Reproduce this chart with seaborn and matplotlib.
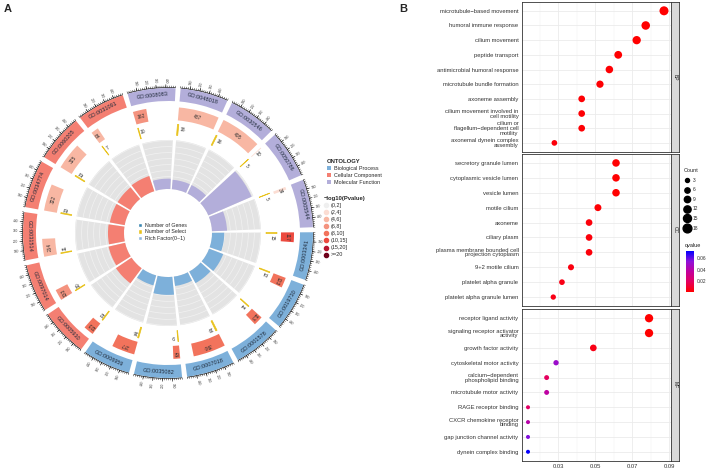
import numpy as np
import pandas as pd
import matplotlib
matplotlib.use("Agg")
import matplotlib.pyplot as plt
import seaborn as sns
from matplotlib.colors import LinearSegmentedColormap, Normalize
from matplotlib.cm import ScalarMappable
from matplotlib.patches import Patch
from matplotlib.lines import Line2D

sns.set_style("white")
plt.rcParams['font.family'] = ['Liberation Sans', 'DejaVu Sans']

# ---------------- panel A data (sectors clockwise from 12 o'clock) ----------------
go_ids = ["GO:0048018", "GO:0030546", "GO:0050786", "GO:0005544",
          "GO:0003341", "GO:0019730", "GO:0001578", "GO:0007018", "GO:0035082", "GO:0006959",
          "GO:0005930", "GO:0097014", "GO:0031514", "GO:0034774", "GO:0060205", "GO:0031091",
          "GO:0008083"]
ontology = ["MF", "MF", "MF", "MF",
            "BP", "BP", "BP", "BP", "BP", "BP",
            "CC", "CC", "CC", "CC", "CC", "CC",
            "MF"]
n_genes = [487, 495, 10, 34, 117, 123, 113, 390, 82, 277, 123, 133, 214, 322, 325, 91, 162]
n_select = [18, 16, 5, 5, 15, 12, 11, 19, 9, 16, 12, 10, 11, 13, 13, 7, 10]
rich_factor = [0.10, 0.10, 0.50, 0.16, 0.13, 0.16, 0.14, 0.10, 0.19, 0.11,
               0.20, 0.18, 0.17, 0.16, 0.16, 0.17, 0.11]
p_bin = [2, 2, 1, 1, 5, 4, 4, 4, 4, 4, 4, 3, 2, 2, 2, 2, 3]
p_labels = ["(0,2]", "(2,4]", "(4,6]", "(6,8]", "(8,10]", "(10,15]", "(15,20]", ">=20"]
p_colors = ["#EFEFEF", "#FBDDD3", "#F8B7A3", "#F4937F", "#F2735C", "#EC4A3F", "#B8152F", "#6E0019"]
ont_colors = {"BP": "#7DB0DA", "CC": "#F47F72", "MF": "#B3AEDA"}
ont_names = {"BP": "Biological Process", "CC": "Cellular Component", "MF": "Molecular Function"}

# ---------------- panel B data ----------------
bp_terms = ["microtubule−based movement", "humoral immune response", "cilium movement",
            "peptide transport", "antimicrobial humoral response", "microtubule bundle formation",
            "axoneme assembly", "cilium movement involved in\ncell motility",
            "cilium or\nflagellum−dependent cell\nmotility", "axonemal dynein complex\nassembly"]
bp_ratio = [0.0873, 0.0774, 0.0725, 0.0625, 0.0577, 0.0526, 0.0427, 0.0427, 0.0427, 0.0279]
bp_count = [19, 17, 16, 14, 13, 12, 10, 10, 10, 7]
bp_q = [0.0001, 0.0002, 0.0002, 0.0005, 0.0006, 0.0008, 0.001, 0.001, 0.001, 0.002]

cc_terms = ["secretory granule lumen", "cytoplasmic vesicle lumen", "vesicle lumen",
            "motile cilium", "axoneme", "ciliary plasm",
            "plasma membrane bounded cell\nprojection cytoplasm", "9+2 motile cilium",
            "platelet alpha granule", "platelet alpha granule lumen"]
cc_ratio = [0.0613, 0.0613, 0.0613, 0.0515, 0.0467, 0.0467, 0.0467, 0.0369, 0.0320, 0.0273]
cc_count = [13, 13, 13, 11, 10, 10, 10, 8, 7, 6]
cc_q = [0.0005, 0.0005, 0.0005, 0.001, 0.002, 0.002, 0.002, 0.003, 0.004, 0.004]

mf_terms = ["receptor ligand activity", "signaling receptor activator\nactivity",
            "growth factor activity", "cytoskeletal motor activity",
            "calcium−dependent\nphospholipid binding", "microtubule motor activity",
            "RAGE receptor binding", "CXCR chemokine receptor\nbinding",
            "gap junction channel activity", "dynein complex binding"]
mf_ratio = [0.0792, 0.0792, 0.0490, 0.0288, 0.0237, 0.0237, 0.0136, 0.0136, 0.0136, 0.0136]
mf_count = [16, 16, 10, 6, 5, 5, 3, 3, 3, 3]
mf_q = [0.0002, 0.0002, 0.004, 0.050, 0.018, 0.038, 0.020, 0.040, 0.056, 0.072]

W, H = 708, 468
fig = plt.figure(figsize=(W / 100, H / 100), dpi=100)


def box(x0, y0, x1, y1):
    # pixel box (top-left origin) -> figure fraction
    return [x0 / W, 1 - y1 / H, (x1 - x0) / W, (y1 - y0) / H]


# ================= panel A =================
cx, cy, R = 168, 233, 165
axA = fig.add_axes(box(cx - R, cy - R, cx + R, cy + R), projection="polar")
axA.set_theta_zero_location("N")
axA.set_theta_direction(-1)
axA.set_ylim(0, R)
axA.set_axis_off()

n = len(go_ids)
step = 360 / n
gap = 2.0
start = 4.0
xmax = 500
span = step - gap


def deg(i, x):
    return start + gap / 2 + i * step + x / xmax * span


def ang(i, x):
    return np.deg2rad(deg(i, x))


for i, gid in enumerate(go_ids):
    col = ont_colors[ontology[i]]
    mid = ang(i, xmax / 2)
    wid = np.deg2rad(span)

    # outer ontology band + id
    axA.bar(mid, 13, width=wid, bottom=132, color=col, edgecolor="none")
    a = deg(i, xmax / 2)
    rot = -a + 180 if 90 < a < 270 else -a
    axA.text(mid, 138.5, gid, rotation=rot, rotation_mode="anchor",
             ha="center", va="center", fontsize=4, color="#1F2A3A")

    # axis with ticks
    axA.bar(mid, 0.6, width=wid, bottom=145.2, color="black", edgecolor="none")
    minor = np.arange(0, xmax + 1, 20)
    axA.vlines(ang(i, minor), 145.5, 147.3, color="black", lw=0.3)
    major = np.arange(100, xmax, 100)
    axA.vlines(ang(i, major), 145.5, 148.6, color="black", lw=0.4)
    for m in major:
        am = deg(i, m)
        if am % 360 < 180:
            r_rot, ha = 90 - am, "left"
        else:
            r_rot, ha = 270 - am, "right"
        axA.text(ang(i, m), 150, str(m), rotation=r_rot, rotation_mode="anchor",
                 ha=ha, va="center", fontsize=2.3, color="#333333")

    # number of genes
    g = n_genes[i]
    axA.bar(ang(i, g / 2), 13, width=np.deg2rad(g / xmax * span), bottom=113,
            color=p_colors[p_bin[i]], edgecolor="none")
    xl = max(g / 2, 28)
    axA.text(ang(i, xl), 119.5, str(g), rotation=-deg(i, xl), rotation_mode="anchor",
             ha="center", va="center", fontsize=3.6, color="#333333")

    # number of select
    s = n_select[i]
    axA.bar(ang(i, s / 2), 11, width=np.deg2rad(s / xmax * span), bottom=98,
            color="#E8C21C", edgecolor="#E8C21C", lw=0.5)
    xs = s + 55
    axA.text(ang(i, xs), 104, str(s), rotation=-deg(i, xs), rotation_mode="anchor",
             ha="center", va="center", fontsize=3.5, color="#333333")

    # rich factor on grey background with light rings
    axA.bar(mid, 49, width=wid, bottom=44, color="#E3E3E3", edgecolor="none")
    for rr in np.arange(50, 93, 6):
        axA.bar(mid, 0.7, width=wid, bottom=rr, color="#F2F2F2", edgecolor="none")
    axA.bar(mid, rich_factor[i] / 0.52 * 49, width=wid, bottom=44,
            color=col, edgecolor="none", zorder=3)

# legends of panel A
fig.legend([Patch(facecolor="#3A86B0"), Patch(facecolor="#E8C21C"), Patch(facecolor="#8FB7DF")],
           ["Number of Genes", "Number of Select", "Rich Factor(0~1)"],
           loc="upper left", bbox_to_anchor=(138 / W, 1 - 223 / H), frameon=False,
           fontsize=3.8, handlelength=0.8, handleheight=0.8, handletextpad=0.5,
           labelspacing=0.25, borderpad=0, borderaxespad=0)

fig.legend([Patch(facecolor=ont_colors[k], edgecolor="none") for k in ["BP", "CC", "MF"]],
           [ont_names[k] for k in ["BP", "CC", "MF"]],
           title="ONTOLOGY", loc="upper left", bbox_to_anchor=(327 / W, 1 - 159 / H),
           frameon=False, fontsize=3.9, handlelength=0.8, handleheight=0.8,
           handletextpad=0.5, labelspacing=0.35, borderpad=0, borderaxespad=0,
           title_fontproperties={"weight": "bold", "size": 4.2}, alignment="left")

fig.legend([Line2D([], [], marker="o", ls="none", color=c, markersize=3.0) for c in p_colors],
           p_labels, title="−log10(Pvalue)", loc="upper left", bbox_to_anchor=(324 / W, 1 - 196 / H),
           frameon=False, fontsize=3.9, handlelength=0.8, handletextpad=0.5,
           labelspacing=0.38, borderpad=0, borderaxespad=0,
           title_fontproperties={"weight": "bold", "size": 4.2}, alignment="left")

fig.text(4 / W, 1 - 9 / H, "A", fontsize=8, weight="bold", va="center")
fig.text(399 / W, 1 - 9 / H, "B", fontsize=8, weight="bold", va="center")

# ================= panel B =================
cmap = LinearSegmentedColormap.from_list("rb", ["#FF0000", "#E5005F", "#C2009D", "#8E12DA", "#0000FF"])
qnorm = (0, 0.073)
size_rng = (8.4, 42)
cnt_norm = (3, 19)

facets = [("BP", bp_terms, bp_ratio, bp_count, bp_q, 2, 151.7),
          ("CC", cc_terms, cc_ratio, cc_count, cc_q, 154, 306),
          ("MF", mf_terms, mf_ratio, mf_count, mf_q, 309.3, 460.7)]

for name, terms, ratio, count, q, y0, y1 in facets:
    df = pd.DataFrame({"term": terms, "ratio": ratio, "Count": count, "qvalue": q})
    ax = fig.add_axes(box(522, y0, 671, y1))
    ax.set_axisbelow(True)
    sns.scatterplot(data=df, x="ratio", y="term", hue="qvalue", size="Count",
                    palette=cmap, hue_norm=qnorm, sizes=size_rng, size_norm=cnt_norm,
                    legend=False, linewidth=0, ax=ax, zorder=3)
    ax.set_xlim(0.01035, 0.0911)
    ax.set_ylim(len(terms) - 0.4, -0.6)
    ax.set_xticks([0.03, 0.05, 0.07, 0.09])
    ax.set_xticks([0.02, 0.04, 0.06, 0.08], minor=True)
    ax.grid(True, which="major", color="#EBEBEB", lw=0.6)
    ax.grid(True, which="minor", axis="x", color="#F2F2F2", lw=0.35)
    ax.set_xlabel("")
    ax.set_ylabel("")
    for sp in ax.spines.values():
        sp.set_color("#333333")
        sp.set_linewidth(0.6)
    ax.tick_params(axis="y", length=1.6, width=0.4, color="#333333", pad=1,
                   labelsize=4.2, labelcolor="#333333")
    for lab in ax.get_yticklabels():
        lab.set_linespacing(0.9)
    if name == "MF":
        ax.tick_params(axis="x", which="major", length=1.6, width=0.4, color="#333333",
                       pad=1, labelsize=4.2, labelcolor="#333333")
        ax.set_xticklabels(["0.03", "0.05", "0.07", "0.09"])
    else:
        ax.tick_params(axis="x", which="both", length=0, labelbottom=False)
    ax.tick_params(axis="x", which="minor", length=0)

    strip = fig.add_axes(box(671, y0, 679, y1))
    strip.set_facecolor("#D9D9D9")
    strip.set_xticks([])
    strip.set_yticks([])
    for sp in strip.spines.values():
        sp.set_color("#333333")
        sp.set_linewidth(0.6)
    strip.text(0.5, 0.5, name, rotation=-90, ha="center", va="center",
               fontsize=3.6, color="#1A1A1A", transform=strip.transAxes)

# Count legend
leg_counts = [3, 6, 9, 12, 15, 18]
cnt_handles = []
for c in leg_counts:
    s = size_rng[0] + (c - cnt_norm[0]) / (cnt_norm[1] - cnt_norm[0]) * (size_rng[1] - size_rng[0])
    cnt_handles.append(Line2D([], [], marker="o", ls="none", color="black", markersize=np.sqrt(s)))
fig.legend(cnt_handles, [str(c) for c in leg_counts], title="Count", loc="upper left",
           bbox_to_anchor=(684 / W, 1 - 168 / H), frameon=False, fontsize=3.5,
           handlelength=1.2, handletextpad=0.6, labelspacing=0.95, borderpad=0,
           borderaxespad=0, title_fontproperties={"size": 4}, alignment="left")

# qvalue colourbar
fig.text(685 / W, 1 - 246 / H, "qvalue", fontsize=4, va="center", color="#1A1A1A")
cax = fig.add_axes(box(686, 251, 694, 292))
cb = fig.colorbar(ScalarMappable(norm=Normalize(*qnorm), cmap=cmap), cax=cax)
cb.set_ticks([0.02, 0.04, 0.06])
cb.outline.set_visible(False)
cax.tick_params(length=1.5, width=0.4, color="white", direction="in", pad=2,
                labelsize=3.5, labelcolor="#333333")

fig.savefig("out.png", dpi=100)
